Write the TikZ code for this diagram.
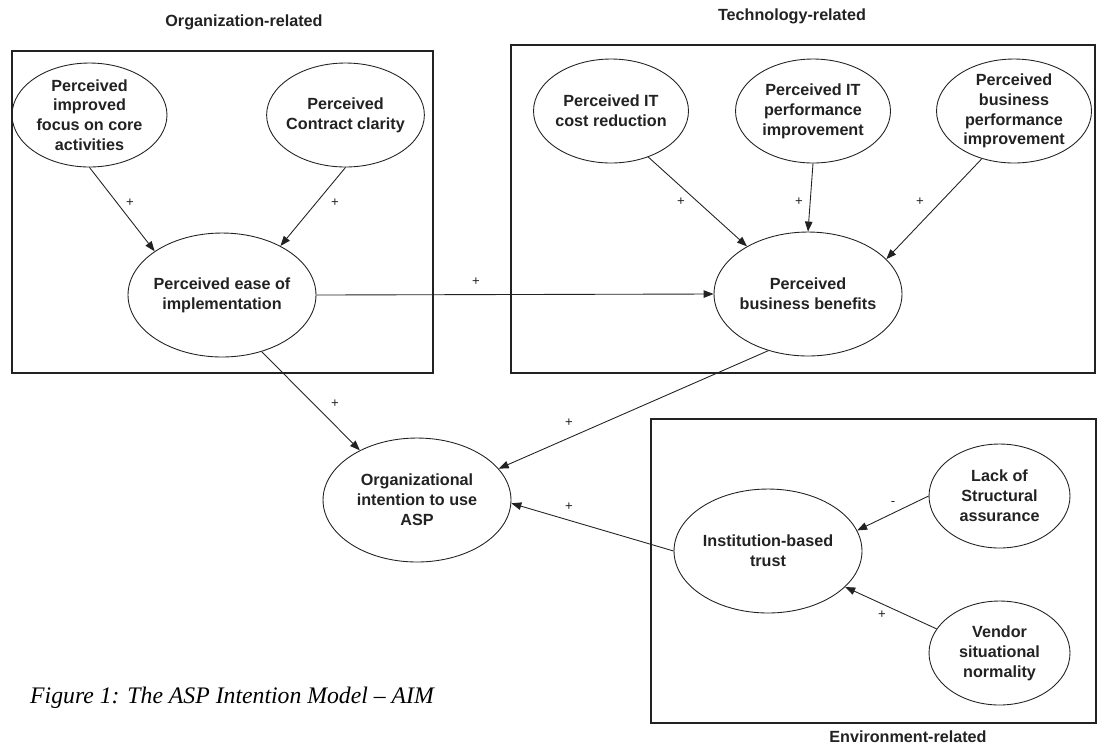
\documentclass[tikz,border=0pt]{standalone}
\usepackage{fontspec}
\setmainfont{Liberation Sans}
\newfontfamily\capfont{Liberation Serif}
\usetikzlibrary{shapes.geometric, arrows.meta}
\definecolor{ink}{HTML}{222222}
\tikzset{
	construct/.style = {ellipse, draw=ink, line width=0.5pt, inner sep=-2pt, align=center, text=ink, font=\fontsize{9.2}{11.3}\selectfont\bfseries},
	small/.style = {minimum width=3.1cm, minimum height=2.08cm},
	narrow/.style = {minimum width=2.82cm, minimum height=2.08cm},
	big/.style = {minimum width=3.76cm, minimum height=2.48cm},
	group/.style = {draw=ink, line width=0.7pt},
	grouplabel/.style = {text=ink, font=\fontsize{9.2}{11}\selectfont\bfseries},
	effect/.style = {draw=ink, line width=0.5pt, -{Triangle[length=5.7pt, width=4.3pt]}},
	sign/.style = {text=ink, inner sep=0pt, font=\fontsize{7.5}{9}\selectfont},
}

\begin{document}
\begin{tikzpicture}[x=0.02cm, y=-0.02cm]
	\useasboundingbox (0,0) rectangle (1108,745);
	% groups
	\draw[group] (12,51) rectangle (433,373);
	\draw[group] (511,45) rectangle (1095,373);
	\draw[group] (651,419) rectangle (1096,723);
	\node[grouplabel] (orglabel) at (244,22) {Organization-related};
	\node[grouplabel] (techlabel) at (792,16) {Technology-related};
	\node[grouplabel] (envlabel) at (908,737) {Environment-related};
	% constructs
	\node[construct, small] (focus) at (89.5,115) {Perceived\\improved\\focus on core\\activities};
	\node[construct, small] (contract) at (345.5,115) {Perceived\\Contract clarity};
	\node[construct, big] (ease) at (222,295) {Perceived ease of\\implementation};
	\node[construct, small] (cost) at (611,111) {Perceived IT\\cost reduction};
	\node[construct, small] (itperf) at (813,111) {Perceived IT\\performance\\improvement};
	\node[construct, small] (bizperf) at (1014,111) {Perceived\\business\\performance\\improvement};
	\node[construct, big] (benefits) at (808,294) {Perceived\\business benefits};
	\node[construct, big] (intention) at (417,500) {Organizational\\intention to use\\ASP};
	\node[construct, big] (trust) at (768,551) {Institution-based\\trust};
	\node[construct, narrow] (lack) at (999.5,496) {Lack of\\Structural\\assurance};
	\node[construct, narrow] (vendor) at (999.5,653) {Vendor\\situational\\normality};
	% effects
	\draw[effect] (focus.south) -- (ease.147);
	\draw[effect] (contract.south) -- (ease.40);
	\draw[effect] (ease.east) -- (benefits.west);
	\draw[effect] (ease.305.7) -- (intention.139.7);
	\draw[effect] (cost.309) -- (benefits.142.4);
	\draw[effect] (itperf.south) -- (benefits.north);
	\draw[effect] (bizperf.236.3) -- (benefits.24.5);
	\draw[effect] (benefits.235) -- (intention.21);
	\draw[effect] (trust.west) -- (intention.358);
	\draw[effect] (lack.west) -- (trust.13.1);
	\draw[effect] (vendor.159.5) -- (trust.335.2);
	% signs
	\node[sign] (s1) at (130,203) {+};
	\node[sign] (s2) at (335,203) {+};
	\node[sign] (s3) at (476,282) {+};
	\node[sign] (s4) at (335,404) {+};
	\node[sign] (s5) at (681,202) {+};
	\node[sign] (s6) at (799,202) {+};
	\node[sign] (s7) at (920,202) {+};
	\node[sign] (s8) at (569,423) {+};
	\node[sign] (s9) at (569,507) {+};
	\node[sign] (s10) at (893,503) {-};
	\node[sign] (s11) at (882,615) {+};
	% caption
	\node[anchor=base west, text=black, font=\fontsize{13.5}{16}\selectfont\capfont\itshape] (caption) at (24,703) {Figure 1: The ASP Intention Model – AIM};
\end{tikzpicture}
\end{document}
